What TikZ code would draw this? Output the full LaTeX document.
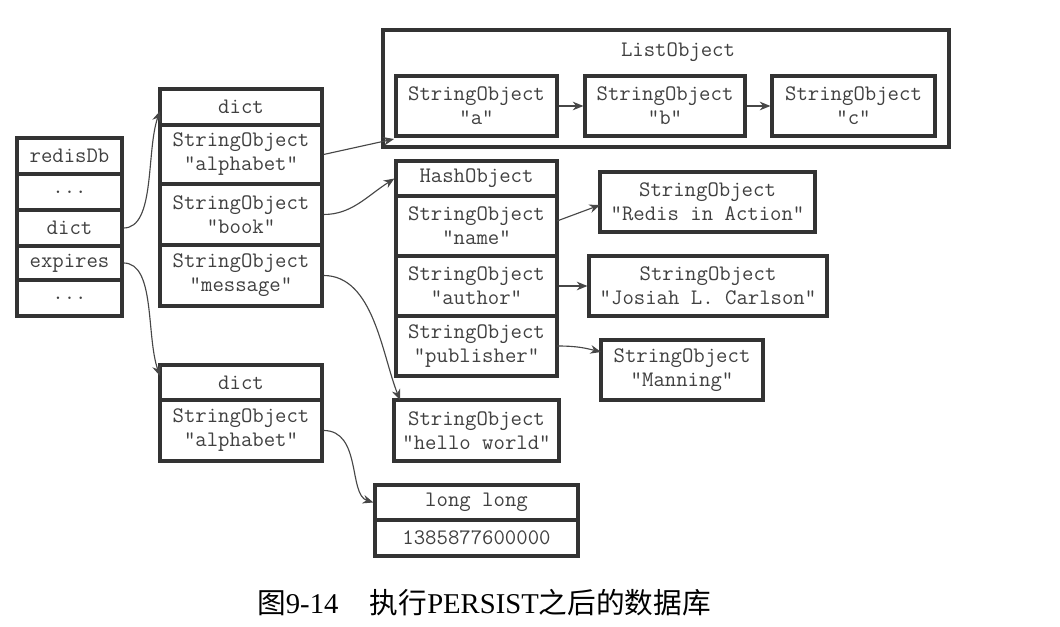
\documentclass[tikz,border=0pt]{standalone}
\usepackage{fontspec}
\setmainfont{Liberation Serif}
\newfontfamily\cjk{Noto Sans CJK SC}
\usetikzlibrary{arrows.meta}
\newcommand\bx[6]{\node[box, minimum width={(#4-#2)*0.75pt}, minimum height={(#5-#3)*0.75pt}]
  (#1) at ({(#2+#4)/2},{(#3+#5)/2}) {#6};}
\begin{document}
\begin{tikzpicture}[x=0.75pt,y=-0.75pt,
  box/.style={draw=black!80, line width=2.4pt, inner sep=0pt, align=center,
    font=\ttfamily\fontsize{16.6}{18}\selectfont, text=black!75},
  arr/.style={draw=black!72, line width=0.85pt, -{Stealth[length=8pt,width=6.5pt]}}]
\useasboundingbox (0,0) rectangle (1060,627);
% redisDb
\bx{r1}{17}{138}{122}{174}{redisDb}
\bx{r2}{17}{174}{122}{210}{...}
\bx{r3}{17}{210}{122}{246}{dict}
\bx{r4}{17}{246}{122}{280}{expires}
\bx{r5}{17}{280}{122}{316}{...}
% dict 1
\bx{d1h}{160}{89}{322}{125}{dict}
\bx{d1a}{160}{125}{322}{184}{StringObject\\"alphabet"}
\bx{d1b}{160}{184}{322}{245}{StringObject\\"book"}
\bx{d1m}{160}{245}{322}{306}{StringObject\\"message"}
% dict 2
\bx{d2h}{160}{365}{322}{400}{dict}
\bx{d2a}{160}{400}{322}{461}{StringObject\\"alphabet"}
% list object
\bx{lo}{383}{30}{949}{147}{}
\node[font=\ttfamily\fontsize{16.6}{18}\selectfont, text=black!75] (lol) at (678,52) {ListObject};
\bx{la}{396}{76}{557}{136}{StringObject\\"a"}
\bx{lb}{585}{76}{745}{136}{StringObject\\"b"}
\bx{lc}{772}{76}{935}{136}{StringObject\\"c"}
% hash object
\bx{h1}{396}{161}{557}{196}{HashObject}
\bx{h2}{396}{196}{557}{256}{StringObject\\"name"}
\bx{h3}{396}{256}{557}{316}{StringObject\\"author"}
\bx{h4}{396}{316}{557}{376}{StringObject\\"publisher"}
% values
\bx{ria}{600}{172}{815}{232}{StringObject\\"Redis in Action"}
\bx{jlc}{589}{256}{827}{316}{StringObject\\"Josiah L. Carlson"}
\bx{man}{601}{340}{763}{400}{StringObject\\"Manning"}
\bx{hw}{394}{400}{559}{461}{StringObject\\"hello world"}
\bx{ll1}{375}{485}{578}{520}{long long}
\bx{ll2}{375}{520}{578}{556}{1385877600000}
% connector targets
\coordinate (loin) at (394,139);
\coordinate (hwin) at (400,400);
\coordinate (d1in) at (160,111);
\coordinate (d2in) at (160,376);
\coordinate (hsrc) at (557,221);
\coordinate (riain) at (600,205);
\coordinate (manin) at (601,352);
\coordinate (psrc) at (557,346);
% connectors
\draw[arr] (r3.east) .. controls +(32,0) and +(-14,40) .. (d1in);
\draw[arr] (r4.east) .. controls +(32,0) and +(-14,-40) .. (d2in);
\draw[arr] (d1a.east) -- (loin);
\draw[arr] (d1b.east) .. controls +(28,0) and +(-28,18) .. (h1.west);
\draw[arr] (d1m.east) .. controls +(50,0) and +(-18,-45) .. (hwin);
\draw[arr] (la.east) -- (lb.west);
\draw[arr] (lb.east) -- (lc.west);
\draw[arr] (hsrc) -- (riain);
\draw[arr] (h3.east) -- (jlc.west);
\draw[arr] (psrc) .. controls +(20,0) and +(-16,-4) .. (manin);
\draw[arr] (d2a.east) .. controls +(38,0) and +(-25,-8) .. (ll1.west);
% caption
\node[font=\fontsize{21.5}{24}\selectfont, text=black] (cap) at (484,603)
  {{\cjk 图}9-14\hspace{1.1em}{\cjk 执行}PERSIST{\cjk 之后的数据库}};
\end{tikzpicture}
\end{document}
